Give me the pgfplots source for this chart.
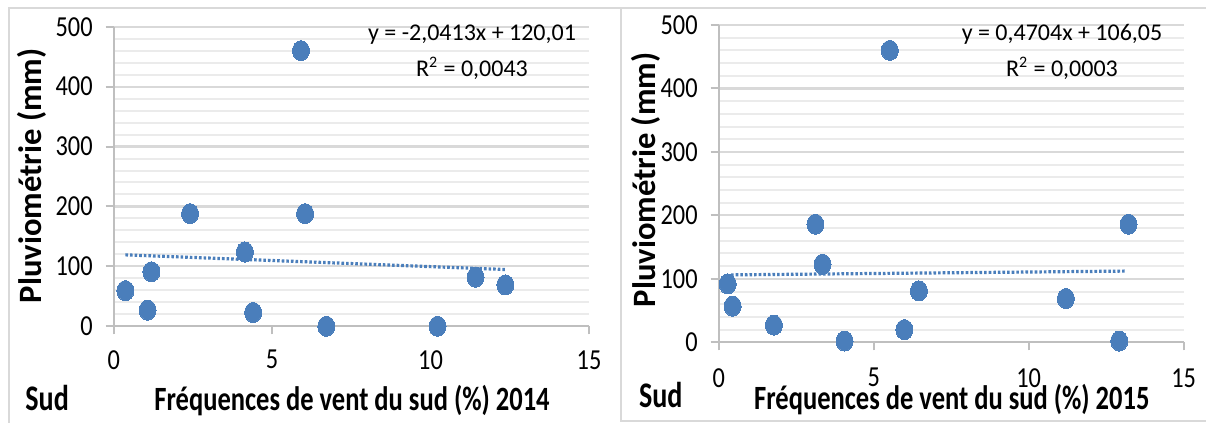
\documentclass[border=0pt]{standalone}
\usepackage{fontspec}
\setmainfont{Carlito}
\newfontfamily\tickfam{Carlito}[FakeStretch=0.84]
\newfontfamily\labfam{Carlito}[FakeStretch=0.78]
\usepackage{pgfplots}
\pgfplotsset{compat=1.18}
\definecolor{ptblue}{HTML}{4A7EBB}
\definecolor{axgray}{HTML}{BFBFBF}
\definecolor{majgrid}{HTML}{D9D9D9}
\definecolor{mingrid}{HTML}{EBEBEB}
\definecolor{framegray}{HTML}{D9D9D9}
\newcommand{\tickfont}{\tickfam\fontsize{14.5}{16}\selectfont}
\newcommand{\labfont}{\labfam\bfseries\fontsize{17}{20}\selectfont}
\newcommand{\sudfont}{\labfam\bfseries\fontsize{18}{20}\selectfont}
\newcommand{\eqfont}{\fontsize{12}{14}\selectfont}
\newcommand{\ylabfont}{\bfseries\fontsize{16.3}{18}\selectfont}
\pgfplotsset{panel/.style={
  scale only axis, anchor=south west,
  xmin=0, xmax=15, ymin=0, ymax=500,
  xtick={0,5,10,15}, ytick={0,100,...,500},
  minor y tick num=4,
  ymajorgrids, yminorgrids,
  major grid style={majgrid, line width=1.1pt},
  minor grid style={mingrid, line width=1pt},
  axis lines=left, axis line style={axgray, line width=1pt, -},
  tick style={axgray, line width=1pt},
  tick align=outside, major tick length=4pt, minor tick length=0pt,
  tick label style={font=\tickfont, text=black},
  xticklabel style={yshift=-4.5pt},
  yticklabel style={xshift=-3pt},
  /pgf/number format/assume math mode=true,
  clip=false,
},
pts/.style={only marks, mark=*, mark size=4.25pt, color=ptblue,
  mark options={fill=ptblue, draw=ptblue, line width=0pt, yscale=1.18}},
trend/.style={no marks, color=ptblue, line width=1.6pt, dash pattern=on 1.3pt off 1.0pt}
}
\begin{document}
\begin{tikzpicture}
\path[use as bounding box] (0,0) rectangle (603pt,-211.5pt);
\draw[framegray, line width=1pt] (4.25pt,-215pt) -- (4.25pt,-4pt) -- (606pt,-4pt);
\draw[framegray, line width=1pt] (310.5pt,-4pt) -- (310.5pt,-210.5pt) -- (606pt,-210.5pt);

\begin{axis}[panel, at={(56.85pt,-163.15pt)}, width=237.65pt, height=149.8pt]
\addplot[pts] table {
x y
0.37 59.5
1.07 27
1.19 91
2.41 188
4.14 124
4.40 23
5.91 460
6.04 188
6.71 0
10.22 0
11.42 82
12.36 69
};
\addplot[trend] coordinates {(0.37,119.25) (12.36,94.78)};
\end{axis}

\begin{axis}[panel, at={(359.35pt,-171.15pt)}, width=232.5pt, height=158.65pt,
  xticklabel style={yshift=-1pt}]
\addplot[pts] table {
x y
0.29 92
0.45 57
1.78 27
3.12 186
3.35 123
4.06 2
5.52 460
5.99 20
6.46 81
11.20 69
12.92 2
13.22 186
};
\addplot[trend] coordinates {(0.40,106.24) (13.15,112.24)};
\end{axis}

\node[font=\eqfont, anchor=base] at (236pt,-20pt) {y = -2,0413x + 120,01};
\node[font=\eqfont, anchor=base] at (236pt,-38pt) {R\textsuperscript{2} = 0,0043};
\node[font=\eqfont, anchor=base] at (531pt,-20pt) {y = 0,4704x + 106,05};
\node[font=\eqfont, anchor=base] at (531pt,-38pt) {R\textsuperscript{2} = 0,0003};

\node[font=\ylabfont, rotate=90, anchor=center] at (16pt,-87.9pt) {Pluviométrie (mm)};
\node[font=\ylabfont, rotate=90, anchor=center] at (323pt,-90pt) {Pluviométrie (mm)};

\node[font=\sudfont, anchor=base west, inner sep=0pt] at (12.5pt,-205pt) {Sud};
\node[font=\labfont, anchor=base, inner sep=0pt] at (176pt,-205.3pt) {Fréquences de vent du sud (\%) 2014};
\node[font=\sudfont, anchor=base west, inner sep=0pt] at (319.35pt,-203.7pt) {Sud};
\node[font=\labfont, anchor=base, inner sep=0pt] at (475.9pt,-204.5pt) {Fréquences de vent du sud (\%) 2015};
\end{tikzpicture}
\end{document}
